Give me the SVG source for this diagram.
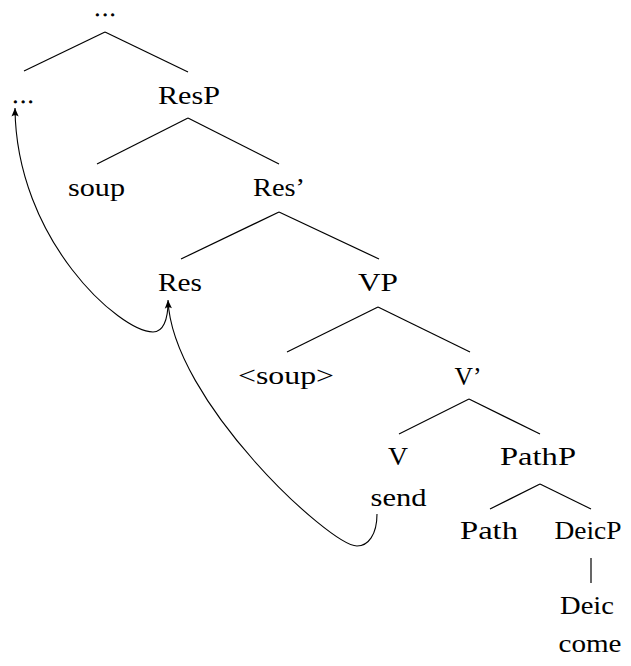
<svg xmlns="http://www.w3.org/2000/svg" width="631" height="666" viewBox="0 0 631 666">
<style>
  .t { font-family: "Liberation Serif", "DejaVu Serif", "Times New Roman", serif; font-size: 26px; fill: #000; }
  .d { font-family: "Liberation Serif", "DejaVu Serif", "Times New Roman", serif; font-size: 19px; fill: #000; stroke: #000; stroke-width: 0.9; }
  .e { stroke: #000; stroke-width: 1.2; fill: none; stroke-linecap: butt; }
  .m { stroke: #000; stroke-width: 1.1; fill: none; }
</style>
<defs>
  <marker id="arr" viewBox="-10 -5 11 10" refX="0" refY="0" markerWidth="11" markerHeight="10" markerUnits="userSpaceOnUse" orient="auto">
    <path d="M0,0 L-8.5,-3.6 Q-6,0 -8.5,3.6 Z" fill="#000"/>
  </marker>
</defs>
<rect width="631" height="666" fill="#fff"/>
<g id="connectors">
  <line class="e" x1="105" y1="32" x2="24" y2="71"/>
  <line class="e" x1="105" y1="32" x2="188" y2="72"/>
  <line class="e" x1="188" y1="118" x2="97" y2="164"/>
  <line class="e" x1="188" y1="118" x2="279" y2="164"/>
  <line class="e" x1="279" y1="212" x2="181" y2="259"/>
  <line class="e" x1="279" y1="212" x2="379" y2="259"/>
  <line class="e" x1="378" y1="307" x2="287" y2="352"/>
  <line class="e" x1="378" y1="307" x2="470" y2="352"/>
  <line class="e" x1="469" y1="399" x2="399" y2="434"/>
  <line class="e" x1="469" y1="399" x2="540" y2="434"/>
  <line class="e" x1="540" y1="484" x2="490" y2="509"/>
  <line class="e" x1="540" y1="484" x2="591" y2="509"/>
  <line class="e" x1="591" y1="558" x2="591" y2="583"/>
  <path class="m" d="M168,302 C168,320 163,332 153,332 C120,332 16,240 15,108" marker-end="url(#arr)"/>
  <path class="m" d="M377,514 C377,535 368,546 357,546 C330,546 172,400 168,300" marker-end="url(#arr)"/>
</g>
<g id="n-top"><text class="d" font-family="'Liberation Serif', 'DejaVu Serif', serif" x="95" y="16" textLength="20" lengthAdjust="spacing">...</text></g>
<g id="n-left"><text class="d" font-family="'Liberation Serif', 'DejaVu Serif', serif" x="13" y="103" textLength="20" lengthAdjust="spacing">...</text></g>
<g id="n-resp"><text class="t" font-family="'Liberation Serif', 'DejaVu Serif', serif" x="158" y="104" textLength="62" lengthAdjust="spacingAndGlyphs">ResP</text></g>
<g id="n-soup"><text class="t" font-family="'Liberation Serif', 'DejaVu Serif', serif" x="68" y="196" textLength="57" lengthAdjust="spacingAndGlyphs">soup</text></g>
<g id="n-resbar"><text class="t" font-family="'Liberation Serif', 'DejaVu Serif', serif" x="253" y="196" textLength="52" lengthAdjust="spacingAndGlyphs">Res’</text></g>
<g id="n-res"><text class="t" font-family="'Liberation Serif', 'DejaVu Serif', serif" x="158" y="291" textLength="44" lengthAdjust="spacingAndGlyphs">Res</text></g>
<g id="n-vp"><text class="t" font-family="'Liberation Serif', 'DejaVu Serif', serif" x="358" y="291" textLength="40" lengthAdjust="spacingAndGlyphs">VP</text></g>
<g id="n-soup2"><text class="t" font-family="'Liberation Serif', 'DejaVu Serif', serif" x="238" y="384" textLength="96" lengthAdjust="spacingAndGlyphs">&lt;soup&gt;</text></g>
<g id="n-vbar"><text class="t" font-family="'Liberation Serif', 'DejaVu Serif', serif" x="454.5" y="385" textLength="27" lengthAdjust="spacingAndGlyphs">V’</text></g>
<g id="n-v"><text class="t" font-family="'Liberation Serif', 'DejaVu Serif', serif" x="388" y="465" textLength="20" lengthAdjust="spacingAndGlyphs">V</text></g>
<g id="n-send"><text class="t" font-family="'Liberation Serif', 'DejaVu Serif', serif" x="370.5" y="506" textLength="56" lengthAdjust="spacingAndGlyphs">send</text></g>
<g id="n-pathp"><text class="t" font-family="'Liberation Serif', 'DejaVu Serif', serif" x="500" y="465" textLength="76" lengthAdjust="spacingAndGlyphs">PathP</text></g>
<g id="n-path"><text class="t" font-family="'Liberation Serif', 'DejaVu Serif', serif" x="460" y="539" textLength="58" lengthAdjust="spacingAndGlyphs">Path</text></g>
<g id="n-deicp"><text class="t" font-family="'Liberation Serif', 'DejaVu Serif', serif" x="554.5" y="539" textLength="67" lengthAdjust="spacingAndGlyphs">DeicP</text></g>
<g id="n-deic"><text class="t" font-family="'Liberation Serif', 'DejaVu Serif', serif" x="560" y="614" textLength="54" lengthAdjust="spacingAndGlyphs">Deic</text></g>
<g id="n-come"><text class="t" font-family="'Liberation Serif', 'DejaVu Serif', serif" x="558.5" y="652" textLength="63" lengthAdjust="spacingAndGlyphs">come</text></g>
</svg>
